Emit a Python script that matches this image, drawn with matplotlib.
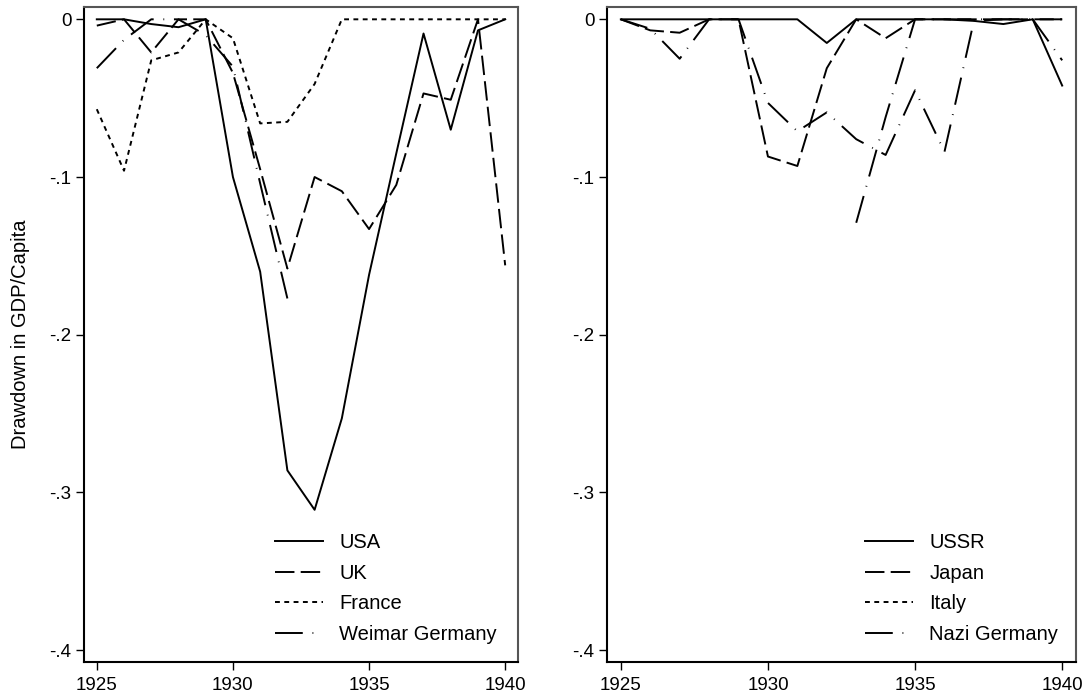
import numpy as np
import matplotlib
matplotlib.use("Agg")
import matplotlib.pyplot as plt
from matplotlib.lines import Line2D

plt.rcParams['font.family'] = ['Liberation Sans', 'DejaVu Sans']
plt.rcParams['lines.scale_dashes'] = False

years = list(range(1925, 1941))
nan = np.nan

# Left panel: drawdown series (fraction below previous peak)
usa = [0, 0, -0.003, -0.005, 0, -0.100, -0.160, -0.286, -0.311, -0.253,
       -0.162, -0.085, -0.009, -0.070, -0.007, 0]
uk = [-0.004, 0, -0.021, 0, 0, -0.034, -0.095, -0.158, -0.100, -0.109,
      -0.133, -0.105, -0.047, -0.051, 0, -0.156]
france = [-0.057, -0.096, -0.026, -0.021, 0, -0.012, -0.066, -0.065, -0.041, 0,
          0, 0, 0, 0, 0, 0]
weimar = [-0.031, -0.013, 0, 0, -0.010, -0.030, -0.104, -0.177,
          nan, nan, nan, nan, nan, nan, nan, nan]

# Right panel
ussr = [0, 0, 0, 0, 0, 0, 0, -0.015, 0, 0, 0, 0, -0.001, -0.003, 0, -0.042]
japan = [0, -0.007, -0.0085, 0, 0, -0.087, -0.093, -0.031, 0, -0.012,
         0, 0, 0, 0, 0, 0]
italy = [0, -0.006, -0.025, 0, 0, -0.053, -0.071, -0.059, -0.076, -0.086,
         -0.045, -0.084, -0.001, 0, 0, -0.026]
nazi = [nan, nan, nan, nan, nan, nan, nan, nan,
        -0.129, -0.062, 0, 0, 0, 0, 0, 0]

left_labels = ["USA", "UK", "France", "Weimar Germany"]
right_labels = ["USSR", "Japan", "Italy", "Nazi Germany"]

xticks = [1925, 1930, 1935, 1940]
yticks = [0, -0.1, -0.2, -0.3, -0.4]
yticklabels = ["0", "-.1", "-.2", "-.3", "-.4"]

# line patterns (points)
SOLID = '-'
DASH = (0, (14, 4.5))
SHORT = (0, (3.5, 3.2))
DASHDOT = (0, (20, 7, 0.6, 7))
styles = [SOLID, DASH, SHORT, DASHDOT]

LW = 1.4
W, H = 1089, 700
fig = plt.figure(figsize=(W / 100, H / 100), dpi=100)

def px_axes(x0, x1, y0, y1):
    return fig.add_axes([x0 / W, 1 - y1 / H, (x1 - x0) / W, (y1 - y0) / H])

axL = px_axes(84, 518, 6.7, 662)
axR = px_axes(607, 1076, 6.7, 662)

def style_axis(ax):
    ax.set_xlim(1924.53, 1940.47)
    ax.set_ylim(-0.4075, 0.008)
    ax.set_xticks(xticks)
    ax.set_xticklabels([str(t) for t in xticks])
    ax.set_yticks(yticks)
    ax.set_yticklabels(yticklabels)
    ax.tick_params(axis='both', direction='out', length=6, width=1,
                   color='black', labelsize=13.5)
    ax.tick_params(axis='x', pad=5)
    ax.tick_params(axis='y', pad=3)
    for s in ['left', 'bottom']:
        ax.spines[s].set_color('black')
        ax.spines[s].set_linewidth(1.5)
    for s in ['top', 'right']:
        ax.spines[s].set_color('#555555')
        ax.spines[s].set_linewidth(1.5)

style_axis(axL)
style_axis(axR)

# Left panel lines
axL.plot(years, usa, color='black', lw=LW, linestyle=SOLID)
axL.plot(years, uk, color='black', lw=LW, linestyle=DASH)
axL.plot(years, france, color='black', lw=LW, linestyle=SHORT)
axL.plot(years, weimar, color='black', lw=LW, linestyle=DASHDOT)

# Right panel lines
axR.plot(years, ussr, color='black', lw=LW, linestyle=SOLID)
axR.plot(years, japan, color='black', lw=LW, linestyle=DASH)
axR.plot(years, italy, color='black', lw=LW, linestyle=DASHDOT)
axR.plot(years, nazi, color='black', lw=LW, linestyle=DASHDOT)

def make_legend(ax, labels, x_px, y_px):
    handles = [Line2D([0], [0], color='black', lw=LW, linestyle=s) for s in styles]
    leg = ax.legend(handles, labels, loc='upper left',
                    bbox_to_anchor=(x_px / W, 1 - y_px / H),
                    bbox_transform=fig.transFigure,
                    frameon=False, fontsize=14.5, handlelength=2.4,
                    handletextpad=0.8, labelspacing=0.58,
                    borderpad=0, borderaxespad=0)
    return leg

make_legend(axL, left_labels, 275, 533)
make_legend(axR, right_labels, 865, 533)

axL.set_ylabel("Drawdown in GDP/Capita", fontsize=14.5)
axL.yaxis.set_label_coords((30 - 84) / 434, 0.5)

fig.savefig("out.png", dpi=100)
